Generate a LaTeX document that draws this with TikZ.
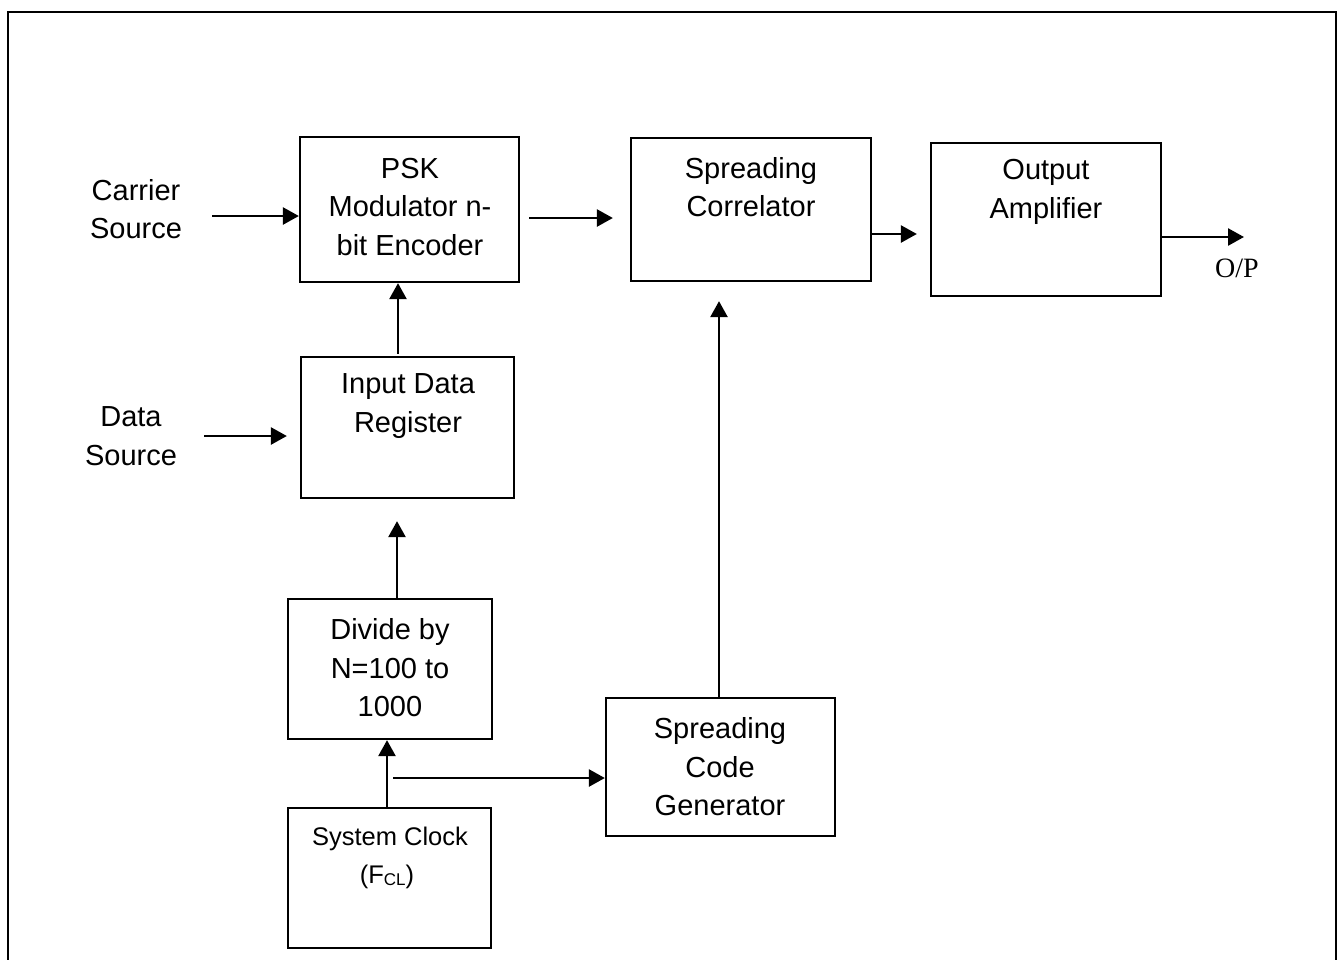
\documentclass[tikz,border=0pt]{standalone}
\usepackage{fontspec}
\setmainfont{Liberation Sans}
\newfontfamily\tnr{Liberation Serif}
\usetikzlibrary{arrows.meta}
\begin{document}
\begin{tikzpicture}[x=1pt,y=-1pt,
  blk/.style={draw,line width=2.3pt,inner sep=0pt},
  txt/.style={align=center,inner sep=0pt,font=\fontsize{29}{38.5}\selectfont},
  arr/.style={line width=2.6pt,-{Triangle[length=16pt,width=17pt]}}]
\useasboundingbox (0,0) rectangle (1338,959);
% outer frame
\draw[line width=2.6pt] (8,965) -- (8,12) -- (1336,12) -- (1336,965);
% boxes
\node[blk,minimum width=219pt,minimum height=145pt] (psk) at (409.5,209.5) {};
\node[blk,minimum width=240pt,minimum height=143pt] (corr) at (751,209.5) {};
\node[blk,minimum width=230pt,minimum height=153pt] (out) at (1046,219.5) {};
\node[blk,minimum width=213pt,minimum height=141pt] (reg) at (407.5,427.5) {};
\node[blk,minimum width=204pt,minimum height=140pt] (div) at (390,669) {};
\node[blk,minimum width=203pt,minimum height=140pt] (clk) at (389.5,878) {};
\node[blk,minimum width=229pt,minimum height=138pt] (scg) at (720.5,767) {};
% texts
\node[txt] (pskt) at (410,207) {PSK\\Modulator n-\\bit Encoder};
\node[txt] (corrt) at (751,187) {Spreading\\Correlator};
\node[txt] (outt) at (1046,192) {Output\\Amplifier};
\node[txt] (regt) at (408,406) {Input Data\\Register};
\node[txt] (divt) at (390,668) {Divide by\\N=100 to\\1000};
\node[txt] (scgt) at (720,767) {Spreading\\Code\\Generator};
\node[txt] (carrier) at (136,209) {Carrier\\Source};
\node[txt] (data) at (131,436) {Data\\Source};
\node[txt,font=\fontsize{25.5}{30}\selectfont] (clkt1) at (390,839) {System Clock};
\node[txt,font=\fontsize{25.5}{30}\selectfont] (clkt2) at (387,877) {(F\raisebox{-2pt}{\fontsize{17}{20}\selectfont CL})};
\node[inner sep=0pt,font=\tnr\fontsize{28}{32}\selectfont] (op) at (1237,268) {O/P};
% connectors
\coordinate (opend) at (1244,237);
\coordinate (branch) at (393,778);
\coordinate (carstart) at (212,216);
\coordinate (datstart) at (204,436);
\draw[arr] (carstart) -- (carstart -| psk.west);
\draw[arr,shorten <=9pt,shorten >=17pt] ([yshift=-8.5pt]psk.east) -- ([yshift=-8.5pt]corr.west);
\draw[arr,shorten >=13pt] ([yshift=-24.5pt]corr.east) -- ([yshift=-24.5pt]corr.east -| out.west);
\draw[arr] ([yshift=-17.5pt]out.east) -- (opend);
\draw[arr,shorten <=2pt] ([xshift=-9.5pt]reg.north) -- ([xshift=-9.5pt]reg.north |- psk.south);
\draw[arr,shorten >=13pt] (datstart) -- (datstart -| reg.west);
\draw[arr,shorten >=22pt] ([xshift=7pt]div.north) -- ([xshift=7pt]div.north |- reg.south);
\draw[arr] ([xshift=-2.5pt]clk.north) -- ([xshift=-2.5pt]clk.north |- div.south);
\draw[arr] (branch) -- (branch -| scg.west);
\draw[arr,shorten >=19pt] ([xshift=-1.5pt]scg.north) -- ([xshift=-1.5pt]scg.north |- corr.south);
\end{tikzpicture}
\end{document}
